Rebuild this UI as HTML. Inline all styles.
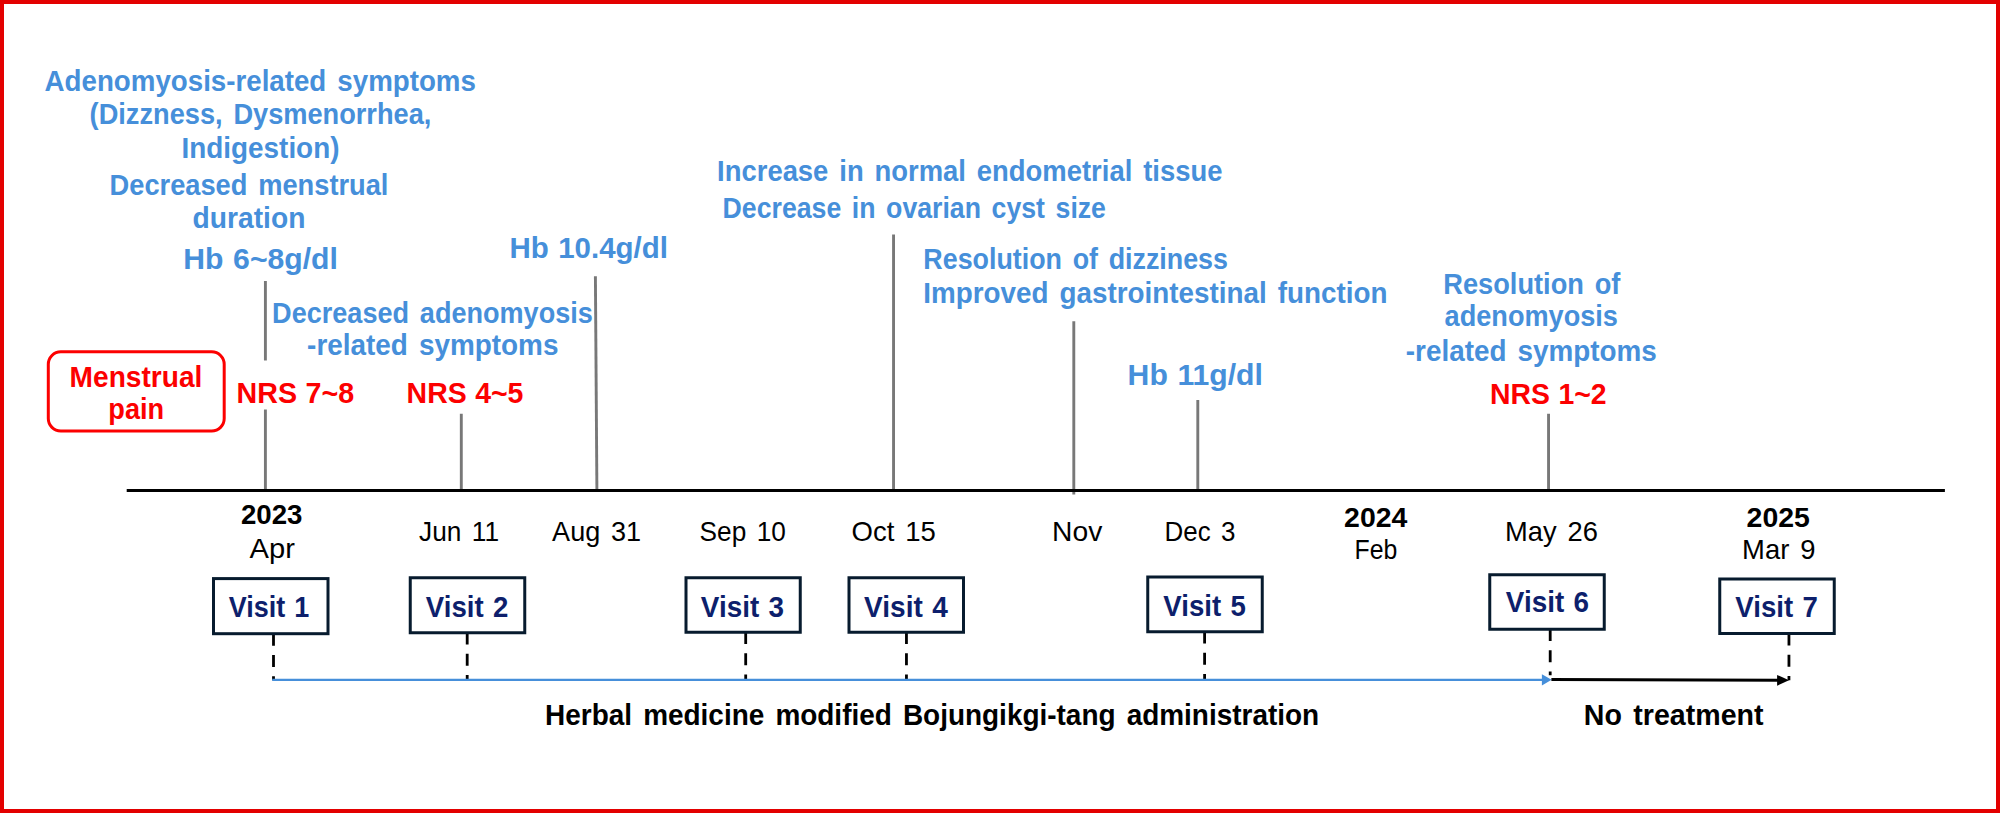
<!DOCTYPE html>
<html lang="en">
<head>
<meta charset="utf-8">
<title>Timeline of visits and symptoms</title>
<style>
html,body{margin:0;padding:0;background:#fff;}
body{width:2000px;height:813px;overflow:hidden;}
svg{display:block;}
text{font-family:"Liberation Sans",sans-serif;white-space:pre;}
</style>
</head>
<body>
<svg width="2000" height="813" viewBox="0 0 2000 813">
<rect x="0" y="0" width="2000" height="813" fill="#ffffff"/>
<rect x="2" y="2" width="1996" height="809" fill="none" stroke="#e30000" stroke-width="4"/>

<line x1="265.40" y1="281" x2="265.40" y2="360.5" stroke="#787878" stroke-width="2.9"/>
<line x1="265.40" y1="409.5" x2="265.40" y2="490" stroke="#787878" stroke-width="2.9"/>
<line x1="461.30" y1="413.75" x2="461.30" y2="490" stroke="#787878" stroke-width="2.9"/>
<line x1="595.40" y1="276.25" x2="596.90" y2="490" stroke="#787878" stroke-width="2.9"/>
<line x1="893.55" y1="234.5" x2="893.55" y2="490" stroke="#787878" stroke-width="2.9"/>
<line x1="1073.80" y1="321.25" x2="1073.80" y2="494.5" stroke="#787878" stroke-width="2.9"/>
<line x1="1197.80" y1="400" x2="1197.80" y2="490" stroke="#787878" stroke-width="2.9"/>
<line x1="1548.55" y1="413.75" x2="1548.55" y2="490" stroke="#787878" stroke-width="2.9"/>
<line x1="126.7" y1="490.5" x2="1944.9" y2="490.5" stroke="#000" stroke-width="3"/>
<rect x="48.3" y="351.8" width="175.9" height="79.2" rx="12.5" ry="12.5" fill="none" stroke="#fc0000" stroke-width="3"/>
<line x1="273.50" y1="633.95" x2="273.50" y2="680.2" stroke="#000" stroke-width="2.8" stroke-dasharray="11.85 9.25"/>
<line x1="467.20" y1="632.75" x2="467.20" y2="680.2" stroke="#000" stroke-width="2.8" stroke-dasharray="11.85 9.25"/>
<line x1="745.70" y1="632.25" x2="745.70" y2="680.2" stroke="#000" stroke-width="2.8" stroke-dasharray="11.85 9.25"/>
<line x1="906.45" y1="632.25" x2="906.45" y2="680.2" stroke="#000" stroke-width="2.8" stroke-dasharray="11.85 9.25"/>
<line x1="1204.60" y1="631.75" x2="1204.60" y2="680.2" stroke="#000" stroke-width="2.8" stroke-dasharray="11.85 9.25"/>
<line x1="1550.20" y1="629.25" x2="1550.20" y2="675.2" stroke="#000" stroke-width="2.8" stroke-dasharray="11.85 9.25"/>
<line x1="1788.95" y1="633.75" x2="1788.95" y2="680.2" stroke="#000" stroke-width="2.8" stroke-dasharray="11.85 9.25"/>
<line x1="272.2" y1="679.9" x2="1544" y2="679.9" stroke="#468fda" stroke-width="2.3"/>
<polygon points="1541.9,674.2 1551.6,679.85 1541.9,685.4" fill="#468fda"/>
<line x1="1551.4" y1="679.6" x2="1779" y2="680.3" stroke="#000" stroke-width="3"/>
<polygon points="1777.1,674.9 1789,680.3 1777.1,685.7" fill="#000"/>
<rect x="213.50" y="578.60" width="114.50" height="55.10" fill="#fff" stroke="#071b2e" stroke-width="3.0"/>
<rect x="410.25" y="577.75" width="114.50" height="55.00" fill="#fff" stroke="#071b2e" stroke-width="3.0"/>
<rect x="686.00" y="577.75" width="114.25" height="54.50" fill="#fff" stroke="#071b2e" stroke-width="3.0"/>
<rect x="849.00" y="577.75" width="114.50" height="54.50" fill="#fff" stroke="#071b2e" stroke-width="3.0"/>
<rect x="1147.75" y="577.00" width="114.50" height="54.75" fill="#fff" stroke="#071b2e" stroke-width="3.0"/>
<rect x="1489.75" y="574.75" width="114.50" height="54.50" fill="#fff" stroke="#071b2e" stroke-width="3.0"/>
<rect x="1719.75" y="579.00" width="114.50" height="54.50" fill="#fff" stroke="#071b2e" stroke-width="3.0"/>
<text x="44.60" y="90.90" font-size="28.6" fill="#468fda" font-weight="bold" word-spacing="3.43" textLength="431.27" lengthAdjust="spacingAndGlyphs">Adenomyosis-related symptoms</text>
<text x="89.60" y="124.35" font-size="28.6" fill="#468fda" font-weight="bold" word-spacing="3.43" textLength="341.77" lengthAdjust="spacingAndGlyphs">(Dizzness, Dysmenorrhea,</text>
<text x="181.60" y="157.60" font-size="28.6" fill="#468fda" font-weight="bold" textLength="157.83" lengthAdjust="spacingAndGlyphs">Indigestion)</text>
<text x="109.60" y="194.60" font-size="28.6" fill="#468fda" font-weight="bold" word-spacing="3.43" textLength="278.84" lengthAdjust="spacingAndGlyphs">Decreased menstrual</text>
<text x="192.60" y="228.10" font-size="28.6" fill="#468fda" font-weight="bold" textLength="112.79" lengthAdjust="spacingAndGlyphs">duration</text>
<text x="183.35" y="268.50" font-size="28.6" fill="#468fda" font-weight="bold" word-spacing="1.14" textLength="154.54" lengthAdjust="spacingAndGlyphs">Hb 6~8g/dl</text>
<text x="272.10" y="322.50" font-size="28.6" fill="#468fda" font-weight="bold" word-spacing="3.43" textLength="320.75" lengthAdjust="spacingAndGlyphs">Decreased adenomyosis</text>
<text x="307.10" y="355.25" font-size="28.6" fill="#468fda" font-weight="bold" word-spacing="3.43" textLength="251.35" lengthAdjust="spacingAndGlyphs">-related symptoms</text>
<text x="69.60" y="386.50" font-size="28.6" fill="#fc0000" font-weight="bold" textLength="132.75" lengthAdjust="spacingAndGlyphs">Menstrual</text>
<text x="108.35" y="419.00" font-size="28.6" fill="#fc0000" font-weight="bold" textLength="55.82" lengthAdjust="spacingAndGlyphs">pain</text>
<text x="236.60" y="402.60" font-size="28.6" fill="#fc0000" font-weight="bold" word-spacing="0.57" textLength="117.57" lengthAdjust="spacingAndGlyphs">NRS 7~8</text>
<text x="406.60" y="402.60" font-size="28.6" fill="#fc0000" font-weight="bold" word-spacing="0.57" textLength="116.82" lengthAdjust="spacingAndGlyphs">NRS 4~5</text>
<text x="509.60" y="257.50" font-size="28.6" fill="#468fda" font-weight="bold" word-spacing="1.14" textLength="158.29" lengthAdjust="spacingAndGlyphs">Hb 10.4g/dl</text>
<text x="717.10" y="181.25" font-size="28.6" fill="#468fda" font-weight="bold" word-spacing="3.43" textLength="505.32" lengthAdjust="spacingAndGlyphs">Increase in normal endometrial tissue</text>
<text x="722.60" y="218.30" font-size="28.6" fill="#468fda" font-weight="bold" word-spacing="3.43" textLength="383.36" lengthAdjust="spacingAndGlyphs">Decrease in ovarian cyst size</text>
<text x="923.35" y="269.05" font-size="28.6" fill="#468fda" font-weight="bold" word-spacing="3.43" textLength="304.60" lengthAdjust="spacingAndGlyphs">Resolution of dizziness</text>
<text x="923.35" y="303.20" font-size="28.6" fill="#468fda" font-weight="bold" word-spacing="3.43" textLength="464.08" lengthAdjust="spacingAndGlyphs">Improved gastrointestinal function</text>
<text x="1127.60" y="384.75" font-size="28.6" fill="#468fda" font-weight="bold" word-spacing="1.14" textLength="135.31" lengthAdjust="spacingAndGlyphs">Hb 11g/dl</text>
<text x="1443.35" y="293.50" font-size="28.6" fill="#468fda" font-weight="bold" word-spacing="3.43" textLength="177.01" lengthAdjust="spacingAndGlyphs">Resolution of</text>
<text x="1444.60" y="326.40" font-size="28.6" fill="#468fda" font-weight="bold" textLength="173.33" lengthAdjust="spacingAndGlyphs">adenomyosis</text>
<text x="1405.85" y="360.50" font-size="28.6" fill="#468fda" font-weight="bold" word-spacing="3.43" textLength="250.85" lengthAdjust="spacingAndGlyphs">-related symptoms</text>
<text x="1490.10" y="403.55" font-size="28.6" fill="#fc0000" font-weight="bold" word-spacing="0.57" textLength="116.57" lengthAdjust="spacingAndGlyphs">NRS 1~2</text>
<text x="240.90" y="523.90" font-size="28" fill="#000000" font-weight="bold" textLength="61.49" lengthAdjust="spacingAndGlyphs">2023</text>
<text x="249.60" y="557.60" font-size="28.3" fill="#000000" textLength="45.34" lengthAdjust="spacingAndGlyphs">Apr</text>
<text x="419.10" y="540.60" font-size="28.3" fill="#000000" word-spacing="3.4" textLength="80.00" lengthAdjust="spacingAndGlyphs">Jun 11</text>
<text x="552.10" y="540.60" font-size="28.3" fill="#000000" word-spacing="3.4" textLength="89.04" lengthAdjust="spacingAndGlyphs">Aug 31</text>
<text x="699.60" y="540.60" font-size="28.3" fill="#000000" word-spacing="3.4" textLength="86.29" lengthAdjust="spacingAndGlyphs">Sep 10</text>
<text x="851.60" y="540.60" font-size="28.3" fill="#000000" word-spacing="3.4" textLength="84.32" lengthAdjust="spacingAndGlyphs">Oct 15</text>
<text x="1052.10" y="540.60" font-size="28.3" fill="#000000" textLength="50.25" lengthAdjust="spacingAndGlyphs">Nov</text>
<text x="1164.60" y="540.60" font-size="28.3" fill="#000000" word-spacing="3.4" textLength="70.86" lengthAdjust="spacingAndGlyphs">Dec 3</text>
<text x="1344.10" y="526.65" font-size="28" fill="#000000" font-weight="bold" textLength="63.29" lengthAdjust="spacingAndGlyphs">2024</text>
<text x="1354.60" y="559.15" font-size="28.3" fill="#000000" textLength="42.76" lengthAdjust="spacingAndGlyphs">Feb</text>
<text x="1505.10" y="540.60" font-size="28.3" fill="#000000" word-spacing="3.4" textLength="92.78" lengthAdjust="spacingAndGlyphs">May 26</text>
<text x="1746.60" y="526.65" font-size="28" fill="#000000" font-weight="bold" textLength="63.29" lengthAdjust="spacingAndGlyphs">2025</text>
<text x="1742.10" y="559.15" font-size="28.3" fill="#000000" word-spacing="3.4" textLength="73.33" lengthAdjust="spacingAndGlyphs">Mar 9</text>
<text x="228.70" y="617.00" font-size="30.2" fill="#0d1f6c" font-weight="bold" word-spacing="1.81" textLength="80.64" lengthAdjust="spacingAndGlyphs">Visit 1</text>
<text x="425.85" y="616.65" font-size="30.2" fill="#0d1f6c" font-weight="bold" word-spacing="1.81" textLength="82.49" lengthAdjust="spacingAndGlyphs">Visit 2</text>
<text x="700.85" y="616.80" font-size="30.2" fill="#0d1f6c" font-weight="bold" word-spacing="1.81" textLength="83.24" lengthAdjust="spacingAndGlyphs">Visit 3</text>
<text x="864.10" y="616.80" font-size="30.2" fill="#0d1f6c" font-weight="bold" word-spacing="1.81" textLength="83.74" lengthAdjust="spacingAndGlyphs">Visit 4</text>
<text x="1163.35" y="615.75" font-size="30.2" fill="#0d1f6c" font-weight="bold" word-spacing="1.81" textLength="82.49" lengthAdjust="spacingAndGlyphs">Visit 5</text>
<text x="1505.85" y="612.35" font-size="30.2" fill="#0d1f6c" font-weight="bold" word-spacing="1.81" textLength="83.24" lengthAdjust="spacingAndGlyphs">Visit 6</text>
<text x="1735.35" y="616.60" font-size="30.2" fill="#0d1f6c" font-weight="bold" word-spacing="1.81" textLength="82.49" lengthAdjust="spacingAndGlyphs">Visit 7</text>
<text x="545.10" y="725.00" font-size="29" fill="#000000" font-weight="bold" word-spacing="3.48" textLength="774.05" lengthAdjust="spacingAndGlyphs">Herbal medicine modified Bojungikgi-tang administration</text>
<text x="1583.85" y="725.00" font-size="29" fill="#000000" font-weight="bold" word-spacing="3.48" textLength="179.73" lengthAdjust="spacingAndGlyphs">No treatment</text>
</svg>
</body>
</html>
